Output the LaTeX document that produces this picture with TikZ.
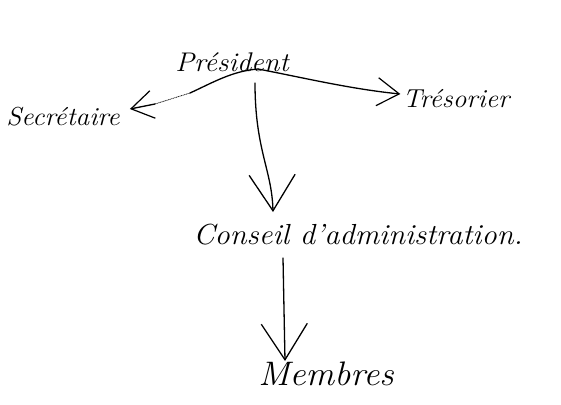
\documentclass[tikz,border=0pt]{standalone}
\usetikzlibrary{arrows.meta}
\begin{document}
\begin{tikzpicture}[x=1pt,y=-1pt,
  txt/.style={font=\itshape\fontsize{#1}{#1}\selectfont, inner sep=1pt, xscale=1.05},
  link/.style={line width=1.3pt, line cap=round, line join=round},
  sidetip/.style={-{Straight Barb[length=22pt,width=28pt,line width=1.2pt]}},
  downtip/.style={-{Straight Barb[length=36pt,width=46pt,line width=1.3pt]}}]
  \useasboundingbox (0,0) rectangle (561,404);

  % roles
  \node[txt=27] (pres) at (232,62) {Président};
  \node[txt=26] (sec)  at (63,117) {Secrétaire};
  \node[txt=26] (tres) at (456,99) {Trésorier};
  \node[txt=29] (cons) at (358,235) {Conseil d'administration.};
  \node[txt=34] (mem)  at (326,374) {Membres};

  % branching point under the president
  \coordinate (apex) at (258,69);
  \coordinate (bend) at (190,93);
  \coordinate (down1) at (255,83);
  \coordinate (tip1) at (273,212);
  \coordinate (down2) at (283,258);
  \coordinate (tip2) at (285,361);

  % president to secretary: solid, then dotted
  \draw[link] (apex) .. controls (232,71) and (212,83) .. (bend);
  \draw[link, line width=0.7pt, densely dotted] (bend) -- (155,104);
  \draw[link, sidetip] (155,104) -- ([xshift=9pt,yshift=8pt]sec.east);

  % president to treasurer
  \draw[link, sidetip] (apex) .. controls (300,77) and (350,89) .. ([xshift=-1pt,yshift=5pt]tres.west);

  % president to board, board to members
  \draw[link, downtip] (down1) .. controls (255,150) and (272,170) .. (tip1);
  \draw[link, downtip] (down2) -- (tip2);
\end{tikzpicture}
\end{document}
